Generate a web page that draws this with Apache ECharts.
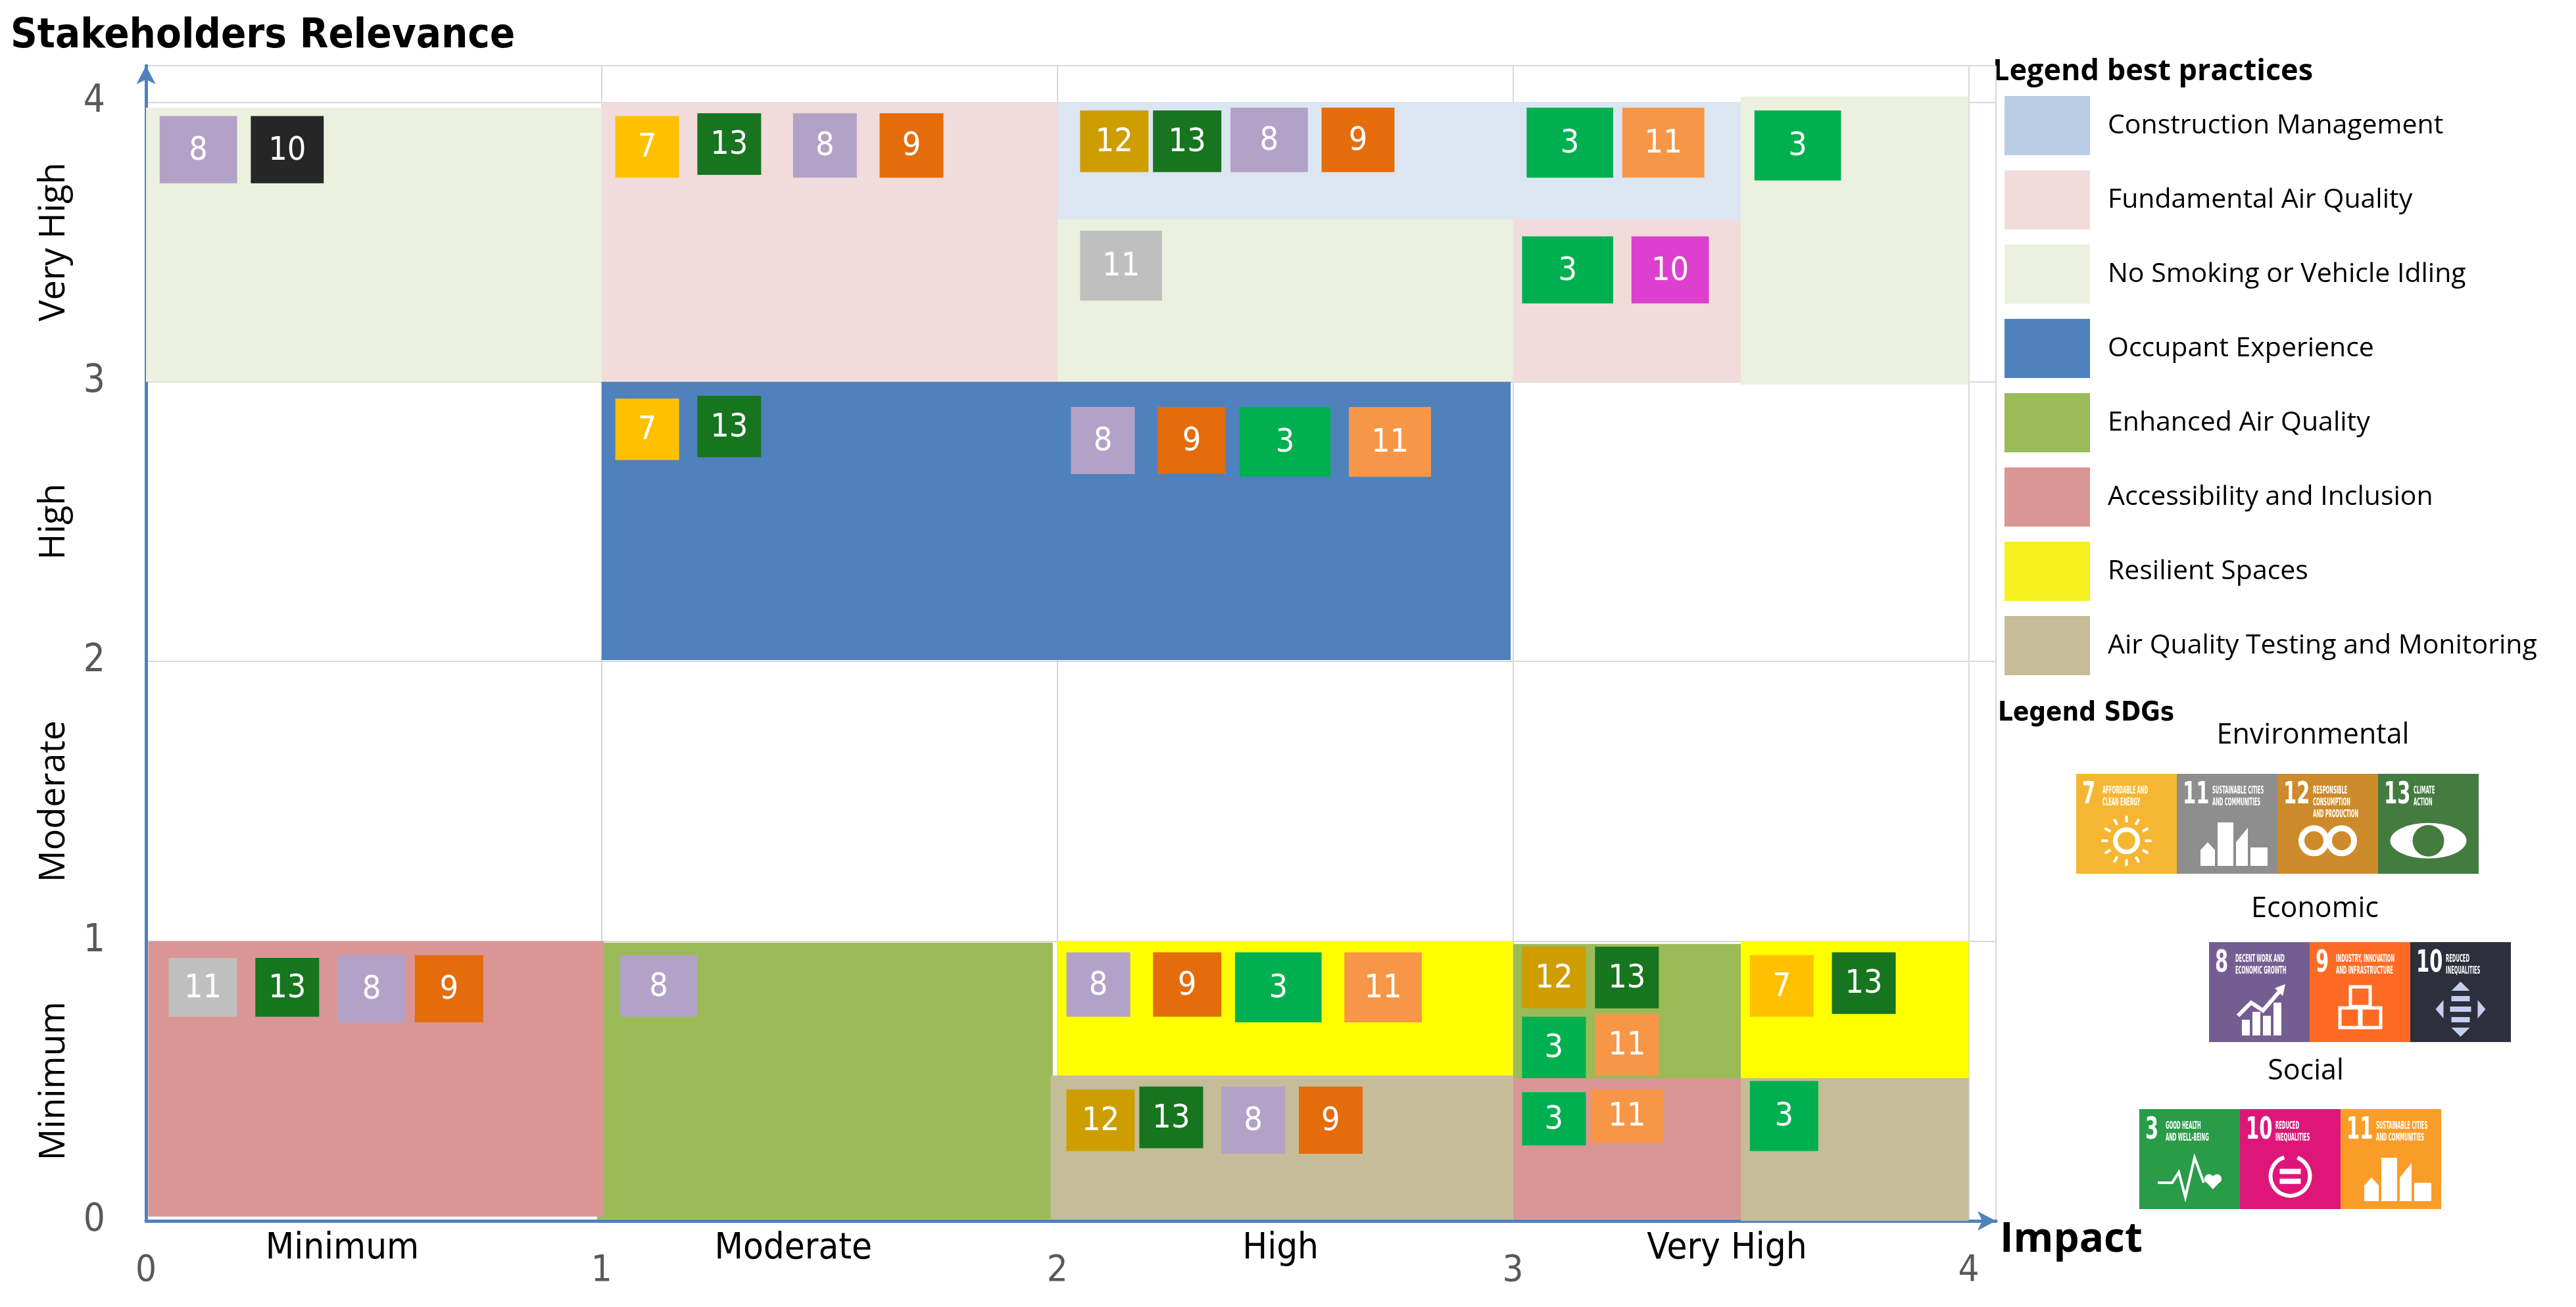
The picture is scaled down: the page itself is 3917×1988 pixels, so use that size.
<!DOCTYPE html>
<html>
<head>
<meta charset="utf-8">
<title>Best practices vs SDGs</title>
<script src="https://cdn.jsdelivr.net/npm/echarts@6/dist/echarts.min.js"></script>
<style>
  html, body { margin: 0; padding: 0; background: #fff; }
  #chart { width: 3917px; height: 1988px; }
</style>
</head>
<body>
<div id="chart"></div>
<script>
// ---- data ----
const levelNames = ['Minimum', 'Moderate', 'High', 'Very High'];

const practiceNames = [
  'Construction Management',
  'Fundamental Air Quality',
  'No Smoking or Vehicle Idling',
  'Occupant Experience',
  'Enhanced Air Quality',
  'Accessibility and Inclusion',
  'Resilient Spaces',
  'Air Quality Testing and Monitoring'
];

// areas as [impactFrom, relevanceFrom, impactTo, relevanceTo]
const constructionMgmt = [[2, 3.58, 3, 4], [3, 3.58, 3.5, 4]];
const fundamentalAir = [[1, 3, 2, 4], [3, 3, 3.5, 3.58]];
const noSmoking = [[0, 3, 1, 3.98], [2, 3, 3, 3.58], [3.5, 2.99, 4, 4.02]];
const occupantExp = [[1, 2.005, 2.995, 3]];
const enhancedAir = [[0.99, 0.005, 1.99, 0.995], [3, 0.51, 3.5, 0.99]];
const accessibility = [[0.005, 0.015, 1.005, 1], [3, 0.005, 3.5, 0.51]];
const resilient = [[2, 0.52, 3, 1], [3.5, 0.51, 4, 1]];
const aqTesting = [[1.985, 0.005, 3, 0.52], [3.5, 0, 4, 0.51]];
const practiceAreas = [constructionMgmt, fundamentalAir, noSmoking, occupantExp,
  enhancedAir, accessibility, resilient, aqTesting];

// SDG badges inside the matrix: [x0, y0, x1, y1, goal, group]
const sdgMarks = [
  [0.03, 3.71, 0.20, 3.95, '8', 'eco'],
  [0.23, 3.71, 0.39, 3.95, '10', 'eco'],
  [1.03, 3.73, 1.17, 3.95, '7', 'env'],
  [1.21, 3.74, 1.35, 3.96, '13', 'env'],
  [1.42, 3.73, 1.56, 3.96, '8', 'eco'],
  [1.61, 3.73, 1.75, 3.96, '9', 'eco'],
  [2.05, 3.75, 2.20, 3.97, '12', 'env'],
  [2.21, 3.75, 2.36, 3.97, '13', 'env'],
  [2.38, 3.75, 2.55, 3.98, '8', 'eco'],
  [2.58, 3.75, 2.74, 3.98, '9', 'eco'],
  [2.05, 3.29, 2.23, 3.54, '11', 'env'],
  [3.03, 3.73, 3.22, 3.98, '3', 'soc'],
  [3.24, 3.73, 3.42, 3.98, '11', 'soc'],
  [3.53, 3.72, 3.72, 3.97, '3', 'soc'],
  [3.02, 3.28, 3.22, 3.52, '3', 'soc'],
  [3.26, 3.28, 3.43, 3.52, '10', 'soc'],
  [1.03, 2.72, 1.17, 2.94, '7', 'env'],
  [1.21, 2.73, 1.35, 2.95, '13', 'env'],
  [2.03, 2.67, 2.17, 2.91, '8', 'eco'],
  [2.22, 2.67, 2.37, 2.91, '9', 'eco'],
  [2.40, 2.66, 2.60, 2.91, '3', 'soc'],
  [2.64, 2.66, 2.82, 2.91, '11', 'soc'],
  [0.05, 0.73, 0.20, 0.94, '11', 'env'],
  [0.24, 0.73, 0.38, 0.94, '13', 'env'],
  [0.42, 0.71, 0.57, 0.95, '8', 'eco'],
  [0.59, 0.71, 0.74, 0.95, '9', 'eco'],
  [1.04, 0.73, 1.21, 0.95, '8', 'eco'],
  [2.02, 0.73, 2.16, 0.96, '8', 'eco'],
  [2.21, 0.73, 2.36, 0.96, '9', 'eco'],
  [2.39, 0.71, 2.58, 0.96, '3', 'soc'],
  [2.63, 0.71, 2.80, 0.96, '11', 'soc'],
  [2.02, 0.25, 2.17, 0.47, '12', 'env'],
  [2.18, 0.26, 2.32, 0.48, '13', 'env'],
  [2.36, 0.24, 2.50, 0.48, '8', 'eco'],
  [2.53, 0.24, 2.67, 0.48, '9', 'eco'],
  [3.02, 0.76, 3.16, 0.98, '12', 'env'],
  [3.18, 0.76, 3.32, 0.98, '13', 'env'],
  [3.02, 0.51, 3.16, 0.73, '3', 'soc'],
  [3.18, 0.52, 3.32, 0.74, '11', 'soc'],
  [3.02, 0.27, 3.16, 0.46, '3', 'soc'],
  [3.17, 0.28, 3.33, 0.47, '11', 'soc'],
  [3.52, 0.73, 3.66, 0.95, '7', 'env'],
  [3.70, 0.74, 3.84, 0.96, '13', 'env'],
  [3.52, 0.25, 3.67, 0.50, '3', 'soc']
];

// SDG legend
const sdgGroups = [
  { title: 'Environmental', group: 'env', goals: ['7', '11', '12', '13'] },
  { title: 'Economic', group: 'eco', goals: ['8', '9', '10'] },
  { title: 'Social', group: 'soc', goals: ['3', '10', '11'] }
];
const sdgTitles = {
  '3': ['GOOD HEALTH', 'AND WELL-BEING'],
  '7': ['AFFORDABLE AND', 'CLEAN ENERGY'],
  '8': ['DECENT WORK AND', 'ECONOMIC GROWTH'],
  '9': ['INDUSTRY, INNOVATION', 'AND INFRASTRUCTURE'],
  '10': ['REDUCED', 'INEQUALITIES'],
  '11': ['SUSTAINABLE CITIES', 'AND COMMUNITIES'],
  '12': ['RESPONSIBLE', 'CONSUMPTION', 'AND PRODUCTION'],
  '13': ['CLIMATE', 'ACTION']
};

// ---- styles ----
const NARROW = "'Liberation Sans Narrow', 'DejaVu Sans Condensed', sans-serif";
const WIDE = "'Open Sans', 'Noto Sans', sans-serif";
const AXIS_BLUE = '#4F81BD';

const areaColors = ['#DCE6F2', '#F2DCDB', '#EBF1DE', '#4F81BD', '#9BBB59', '#D99694', '#FFFF00', '#C4BD97'];
const swatchColors = ['#B9CDE5', '#F2DCDB', '#EBF1DE', '#4F81BD', '#9BBB59', '#D99694', '#F5F01E', '#C4BD97'];
const markColors = {
  '8eco': '#B3A2C7', '10eco': '#262626', '9eco': '#E46C0A',
  '7env': '#FFC000', '13env': '#17741F', '12env': '#CE9E00', '11env': '#BFBFBF',
  '3soc': '#00B050', '11soc': '#F79646', '10soc': '#DD40CF'
};
const iconColors = {
  '7env': '#F5B731', '11env': '#8E8E8E', '12env': '#CD8B2B', '13env': '#447B3F',
  '8eco': '#745E91', '9eco': '#FD6A24', '10eco': '#2E2F3C',
  '3soc': '#2A9B48', '10soc': '#DE1679', '11soc': '#F99D28'
};
// horizontal nudge (px) of the impact level captions, as placed in the original
const levelLabelShift = [-48, -55, -7, -21];

const chart = echarts.init(document.getElementById('chart'));

function rectOf(api) {
  const a = api.coord([api.value(0), api.value(3)]);
  const b = api.coord([api.value(2), api.value(1)]);
  return { x: a[0], y: a[1], width: b[0] - a[0], height: b[1] - a[1] };
}

const areaSeries = practiceNames.map((name, i) => ({
  type: 'custom',
  name: name,
  xAxisIndex: 0,
  yAxisIndex: 0,
  itemStyle: { color: areaColors[i] },
  encode: { x: [0, 2], y: [1, 3] },
  data: practiceAreas[i],
  z: 2,
  renderItem: (params, api) => ({
    type: 'rect',
    shape: rectOf(api),
    style: { fill: api.visual('color') }
  })
}));

const markSeries = {
  type: 'custom',
  name: 'SDG',
  xAxisIndex: 0,
  yAxisIndex: 0,
  encode: { x: [0, 2], y: [1, 3] },
  data: sdgMarks.map(m => m.slice(0, 4)),
  z: 3,
  renderItem: (params, api) => {
    const r = rectOf(api);
    const m = sdgMarks[params.dataIndex];
    return {
      type: 'group',
      children: [
        { type: 'rect', shape: r, style: { fill: markColors[m[4] + m[5]] } },
        {
          type: 'text',
          x: r.x + r.width / 2,
          y: r.y + r.height / 2 + 2,
          style: {
            text: m[4], fill: '#fff', fontSize: 50, fontFamily: NARROW,
            align: 'center', verticalAlign: 'middle'
          }
        }
      ]
    };
  }
};

// simple white pictograms for the SDG legend tiles
function pictogram(key, w, h, bg) {
  const cx = w / 2, cy = h * 0.67, W = '#fff';
  const ring = { stroke: W, lineWidth: 7, fill: null };
  switch (key) {
    case '7env': {
      const els = [{ type: 'circle', shape: { cx: cx, cy: cy, r: 17 }, style: ring }];
      for (let i = 0; i < 12; i++) {
        const a = i * Math.PI / 6;
        els.push({ type: 'line', shape: {
          x1: cx + Math.cos(a) * 28, y1: cy + Math.sin(a) * 28,
          x2: cx + Math.cos(a) * 38, y2: cy + Math.sin(a) * 38
        }, style: { stroke: W, lineWidth: 4 } });
      }
      return els;
    }
    case '11env':
    case '11soc':
      return [
        { type: 'polygon', shape: { points: [[36, 116], [47, 104], [58, 116], [58, 140], [36, 140]] }, style: { fill: W } },
        { type: 'rect', shape: { x: 62, y: 74, width: 24, height: 66 }, style: { fill: W } },
        { type: 'polygon', shape: { points: [[90, 140], [90, 104], [108, 82], [108, 140]] }, style: { fill: W } },
        { type: 'rect', shape: { x: 112, y: 112, width: 26, height: 28 }, style: { fill: W } }
      ];
    case '12env':
      return [
        { type: 'circle', shape: { cx: cx - 21, cy: cy, r: 19 }, style: { stroke: W, lineWidth: 9, fill: null } },
        { type: 'circle', shape: { cx: cx + 21, cy: cy, r: 19 }, style: { stroke: W, lineWidth: 9, fill: null } }
      ];
    case '13env':
      return [
        { type: 'ellipse', shape: { cx: cx, cy: cy, rx: 58, ry: 27 }, style: { fill: W } },
        { type: 'circle', shape: { cx: cx, cy: cy, r: 24 }, style: { fill: bg } }
      ];
    case '8eco':
      return [
        { type: 'rect', shape: { x: 50, y: 118, width: 12, height: 24 }, style: { fill: W } },
        { type: 'rect', shape: { x: 66, y: 106, width: 12, height: 36 }, style: { fill: W } },
        { type: 'rect', shape: { x: 82, y: 112, width: 12, height: 30 }, style: { fill: W } },
        { type: 'rect', shape: { x: 98, y: 92, width: 12, height: 50 }, style: { fill: W } },
        { type: 'polyline', shape: { points: [[44, 112], [64, 92], [82, 104], [108, 74]] }, style: { stroke: W, lineWidth: 6, fill: null } },
        { type: 'polygon', shape: { points: [[100, 70], [116, 64], [112, 82]] }, style: { fill: W } }
      ];
    case '9eco':
      return [
        { type: 'rect', shape: { x: 62, y: 68, width: 30, height: 30 }, style: { stroke: W, lineWidth: 5, fill: null } },
        { type: 'rect', shape: { x: 46, y: 100, width: 30, height: 30 }, style: { stroke: W, lineWidth: 5, fill: null } },
        { type: 'rect', shape: { x: 78, y: 100, width: 30, height: 30 }, style: { stroke: W, lineWidth: 5, fill: null } }
      ];
    case '10eco': {
      const L = '#C5CEEE';
      return [
        { type: 'polygon', shape: { points: [[cx, 60], [cx - 14, 74], [cx + 14, 74]] }, style: { fill: L } },
        { type: 'polygon', shape: { points: [[cx, 144], [cx - 14, 130], [cx + 14, 130]] }, style: { fill: L } },
        { type: 'polygon', shape: { points: [[cx - 38, 102], [cx - 26, 88], [cx - 26, 116]] }, style: { fill: L } },
        { type: 'polygon', shape: { points: [[cx + 38, 102], [cx + 26, 88], [cx + 26, 116]] }, style: { fill: L } },
        { type: 'rect', shape: { x: cx - 14, y: 82, width: 28, height: 8 }, style: { fill: L } },
        { type: 'rect', shape: { x: cx - 16, y: 98, width: 32, height: 8 }, style: { fill: L } },
        { type: 'rect', shape: { x: cx - 14, y: 114, width: 28, height: 8 }, style: { fill: L } }
      ];
    }
    case '3soc':
      return [
        { type: 'polyline', shape: { points: [[28, 112], [50, 112], [60, 96], [70, 134], [84, 74], [98, 112]] }, style: { stroke: W, lineWidth: 4, fill: null } },
        { type: 'circle', shape: { cx: 106, cy: 106, r: 7 }, style: { fill: W } },
        { type: 'circle', shape: { cx: 118, cy: 106, r: 7 }, style: { fill: W } },
        { type: 'polygon', shape: { points: [[99, 108], [125, 108], [112, 122]] }, style: { fill: W } }
      ];
    case '10soc':
      return [
        { type: 'arc', shape: { cx: cx, cy: cy, r: 30, startAngle: -1.2, endAngle: 4.4 }, style: { stroke: W, lineWidth: 6, fill: null } },
        { type: 'rect', shape: { x: cx - 16, y: cy - 11, width: 32, height: 8 }, style: { fill: W } },
        { type: 'rect', shape: { x: cx - 16, y: cy + 4, width: 32, height: 8 }, style: { fill: W } }
      ];
  }
  return [];
}

// legend tile layout (pixels)
const TILE_W = 153, TILE_H = 152;
const sdgRowLayout = [
  { tx: 3517, ty: 1119, x: 3157, y: 1177 },
  { tx: 3520, ty: 1383, x: 3359, y: 1433 },
  { tx: 3506, ty: 1630, x: 3253, y: 1687 }
];

const graphics = [
  { type: 'text', x: 3030, y: 109, style: { text: 'Legend best practices', fontSize: 45, fontWeight: 'bold', fontFamily: WIDE, fill: '#000', verticalAlign: 'middle' } },
  { type: 'text', x: 3038, y: 1086, style: { text: 'Legend SDGs', fontSize: 40, fontWeight: 'bold', fontFamily: NARROW, fill: '#000', verticalAlign: 'middle' } }
];

sdgGroups.forEach((g, gi) => {
  const lay = sdgRowLayout[gi];
  graphics.push({ type: 'text', x: lay.tx, y: lay.ty, style: {
    text: g.title, fontSize: 43, fontFamily: WIDE, fill: '#000', align: 'center', verticalAlign: 'middle'
  } });
  g.goals.forEach((goal, k) => {
    const key = goal + g.group;
    const bg = iconColors[key];
    const titleX = goal.length > 1 ? 54 : 40;
    graphics.push({
      type: 'group',
      x: lay.x + k * TILE_W,
      y: lay.y,
      children: [
        { type: 'rect', shape: { x: 0, y: 0, width: TILE_W, height: TILE_H }, style: { fill: bg } },
        { type: 'text', x: 9, y: 10, scaleX: 0.7, style: { text: goal, fontSize: 46, fontWeight: 'bold', fontFamily: NARROW, fill: '#fff' } },
        { type: 'text', x: titleX, y: 17, scaleX: 0.5, style: {
          text: sdgTitles[goal].join('\n'), fontSize: 15, lineHeight: 18, fontWeight: 'bold',
          fontFamily: NARROW, fill: '#fff'
        } }
      ].concat(pictogram(key, TILE_W, TILE_H, bg))
    });
  });
});

const option = {
  backgroundColor: '#fff',
  animation: false,
  title: {
    text: 'Stakeholders Relevance',
    left: 16,
    top: 24,
    padding: 0,
    textStyle: { fontSize: 63, fontWeight: 'bold', fontFamily: NARROW, color: '#000' }
  },
  legend: {
    orient: 'vertical',
    left: 3043,
    top: 141,
    icon: 'rect',
    itemWidth: 130,
    itemHeight: 90,
    itemGap: 23,
    selectedMode: false,
    textStyle: { fontSize: 41, fontFamily: WIDE, color: '#000', padding: [0, 0, 0, 22] },
    data: practiceNames.map((n, i) => ({ name: n, itemStyle: { color: swatchColors[i] } }))
  },
  grid: { left: 222, right: 882, top: 100, bottom: 131 },
  xAxis: [
    {
      type: 'value', min: 0, max: 4.06, interval: 1,
      name: 'Impact', nameLocation: 'end', nameGap: 6,
      nameTextStyle: { fontSize: 62, fontWeight: 'bold', fontFamily: WIDE, color: '#000', verticalAlign: 'top', padding: [-2, 0, 0, 0] },
      axisLine: { show: true, symbol: ['none', 'arrow'], symbolSize: [22, 28], lineStyle: { color: AXIS_BLUE, width: 5 } },
      axisTick: { show: false },
      axisLabel: { margin: 48, fontSize: 56, fontFamily: NARROW, color: '#595959' },
      splitLine: { show: true, lineStyle: { color: '#D9D9D9', width: 2 } }
    },
    {
      type: 'value', min: 0, max: 4.06, interval: 0.5, position: 'bottom',
      axisLine: { show: false }, axisTick: { show: false }, splitLine: { show: false },
      axisLabel: {
        margin: 14, fontSize: 56, fontFamily: NARROW, color: '#000',
        formatter: v => {
          if (v % 1 !== 0.5) return '';
          const i = Math.floor(v);
          return '{s' + i + '|' + levelNames[i] + '}';
        },
        rich: Object.fromEntries(levelLabelShift.map((d, i) => ['s' + i, {
          fontSize: 56, fontFamily: NARROW, color: '#000',
          padding: d < 0 ? [0, -2 * d, 0, 0] : [0, 0, 0, 2 * d]
        }]))
      }
    }
  ],
  yAxis: [
    {
      type: 'value', min: 0, max: 4.13, interval: 1,
      axisLine: { show: true, symbol: ['none', 'arrow'], symbolSize: [22, 28], lineStyle: { color: AXIS_BLUE, width: 5 } },
      axisTick: { show: false },
      axisLabel: { margin: 62, fontSize: 58, fontFamily: NARROW, color: '#595959' },
      splitLine: { show: true, lineStyle: { color: '#D9D9D9', width: 2 } }
    },
    {
      type: 'value', min: 0, max: 4.13, interval: 0.5, position: 'left',
      axisLine: { show: false }, axisTick: { show: false }, splitLine: { show: false },
      axisLabel: {
        margin: 112, rotate: 90, fontSize: 54, fontFamily: WIDE, color: '#000',
        formatter: v => (v % 1 === 0.5 ? levelNames[Math.floor(v)] : '')
      }
    }
  ],
  graphic: graphics,
  series: areaSeries.concat([markSeries])
};

chart.setOption(option);
</script>
</body>
</html>
